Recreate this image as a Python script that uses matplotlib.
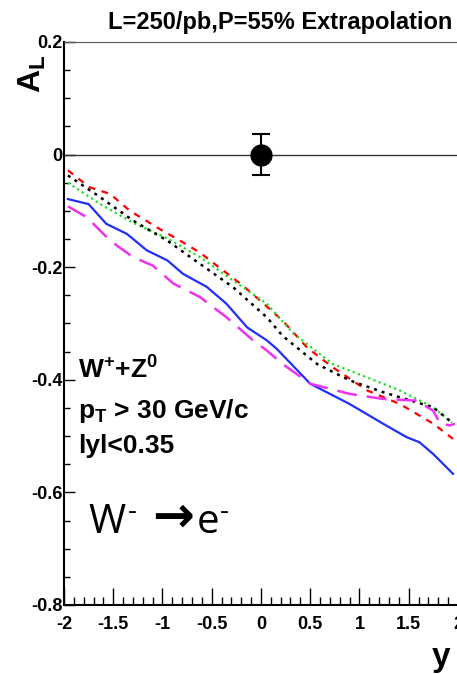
import matplotlib.pyplot as plt
import numpy as np
from matplotlib.ticker import MultipleLocator

plt.rcParams['font.family'] = ['Liberation Sans', 'DejaVu Sans']
plt.rcParams['mathtext.fontset'] = 'custom'
plt.rcParams['mathtext.rm'] = 'Liberation Sans'
plt.rcParams['mathtext.bf'] = 'Liberation Sans:bold'
plt.rcParams['mathtext.it'] = 'Liberation Sans:italic'

# curves (y vs A_L)
y_red = [-1.96, -1.74, -1.53, -1.33, -1.03, -0.82, -0.62, -0.45, -0.21, -0.01, 0.22, 0.47, 0.73, 1.08, 1.41, 1.75, 1.95]
a_red = [-0.028, -0.058, -0.070, -0.100, -0.132, -0.153, -0.174, -0.197, -0.229, -0.259, -0.295, -0.343, -0.378, -0.419, -0.443, -0.478, -0.505]

y_green = [-1.96, -1.63, -1.30, -0.95, -0.62, -0.28, 0.06, 0.33, 0.73, 1.08, 1.41, 1.75, 1.94]
a_green = [-0.050, -0.088, -0.121, -0.149, -0.182, -0.224, -0.265, -0.318, -0.372, -0.396, -0.419, -0.449, -0.476]

y_black = [-1.96, -1.63, -1.30, -0.95, -0.62, -0.28, 0.06, 0.22, 0.57, 0.90, 1.24, 1.58, 1.75, 1.94]
a_black = [-0.037, -0.076, -0.117, -0.153, -0.194, -0.236, -0.289, -0.322, -0.372, -0.401, -0.422, -0.440, -0.449, -0.476]

y_blue = [-1.96, -1.75, -1.57, -1.36, -1.16, -0.95, -0.79, -0.55, -0.35, -0.14, 0.06, 0.16, 0.50, 0.90, 1.24, 1.48, 1.61, 1.75, 1.95]
a_blue = [-0.079, -0.088, -0.123, -0.141, -0.170, -0.188, -0.212, -0.235, -0.265, -0.307, -0.330, -0.345, -0.407, -0.443, -0.478, -0.502, -0.511, -0.532, -0.567]

y_mag = [-1.96, -1.77, -1.53, -1.30, -1.10, -0.89, -0.62, -0.35, -0.08, 0.06, 0.22, 0.50, 0.90, 1.24, 1.58, 1.75, 1.82, 1.92, 1.97]
a_mag = [-0.092, -0.111, -0.153, -0.182, -0.197, -0.229, -0.253, -0.289, -0.330, -0.348, -0.372, -0.407, -0.425, -0.434, -0.437, -0.455, -0.478, -0.481, -0.478]

pt_x = [0.0]
pt_y = [0.0]
pt_err = [0.036]

xticks = [-2, -1.5, -1, -0.5, 0, 0.5, 1, 1.5, 2]
xticklabels = ['-2', '-1.5', '-1', '-0.5', '0', '0.5', '1', '1.5', '2']
yticks = [-0.8, -0.6, -0.4, -0.2, 0, 0.2]
yticklabels = ['-0.8', '-0.6', '-0.4', '-0.2', '0', '0.2']

fig = plt.figure(figsize=(4.57, 6.74), dpi=100)
ax = fig.add_axes([0.140, 0.1024, 0.862, 0.8353])

ax.axhline(0, color='#333333', lw=1.0)
ax.plot(y_red, a_red, color='red', lw=1.6, linestyle=(0, (3, 3)))
ax.plot(y_green, a_green, color='#22dd22', lw=1.6, linestyle=(0, (1, 1.5)))
ax.plot(y_black, a_black, color='black', lw=1.8, linestyle=(0, (1.2, 2)))
ax.plot(y_blue, a_blue, color='#1f2fff', lw=1.6)
ax.plot(y_mag, a_mag, color='#ee33ee', lw=1.8, linestyle=(0, (8, 4)))
ax.errorbar(pt_x, pt_y, yerr=pt_err, fmt='o', color='black', ms=15, capsize=6.5, elinewidth=1.5, capthick=1.5)

ax.set_xlim(-2, 2)
ax.set_ylim(-0.8, 0.2)
ax.xaxis.set_minor_locator(MultipleLocator(0.1))
ax.yaxis.set_minor_locator(MultipleLocator(0.05))
ax.set_xticks(xticks)
ax.set_xticklabels(xticklabels)
ax.set_yticks(yticks)
ax.set_yticklabels(yticklabels)
ax.tick_params(axis='x', which='major', direction='in', length=12, width=1, labelsize=13, pad=8)
ax.tick_params(axis='x', which='minor', direction='in', length=6, width=1)
ax.tick_params(axis='y', which='major', direction='in', length=8, width=1, labelsize=13, pad=1)
ax.tick_params(axis='y', which='minor', direction='in', length=4, width=1)
for lab in ax.get_xticklabels() + ax.get_yticklabels():
    lab.set_fontweight('bold')
ax.spines['right'].set_visible(False)
ax.spines['left'].set_linewidth(1.5)
ax.spines['bottom'].set_linewidth(1.5)
ax.spines['top'].set_color('#555555')

fig.text(0.99, 0.967, 'L=250/pb,P=55% Extrapolation', ha='right', va='center', fontsize=17, fontweight='bold')
fig.text(0.072, 0.89, r'$\mathbf{A_L}$', rotation=90, ha='center', va='center', fontsize=23)
fig.text(0.985, 0.025, 'y', ha='right', va='center', fontsize=24, fontweight='bold')

ax.text(-1.858, -0.382, r'W$^{\mathbf{+}}$+Z$^{\mathbf{0}}$', fontsize=19, fontweight='bold', va='center')
ax.text(-1.858, -0.455, r'p$_{\mathbf{T}}$ > 30 GeV/c', fontsize=19, fontweight='bold', va='center')
ax.text(-1.858, -0.517, 'lyl<0.35', fontsize=19, fontweight='bold', va='center')

# W- -> e- label, built from pieces
base = (-1.756, -0.673)
ax.annotate('W', xy=base, xytext=(0, 0), textcoords='offset pixels', va='baseline', fontsize=29, family='Open Sans')
ax.annotate('-', xy=base, xytext=(40, 14), textcoords='offset pixels', va='baseline', fontsize=20, family='Open Sans')
ax.annotate('→', xy=base, xytext=(64, 2), textcoords='offset pixels', va='baseline', fontsize=36, fontweight='bold', family='DejaVu Sans')
ax.annotate('e', xy=base, xytext=(109, 0), textcoords='offset pixels', va='baseline', fontsize=29, family='Open Sans')
ax.annotate('-', xy=base, xytext=(132, 14), textcoords='offset pixels', va='baseline', fontsize=20, family='Open Sans')

plt.savefig('out.png', dpi=100)
